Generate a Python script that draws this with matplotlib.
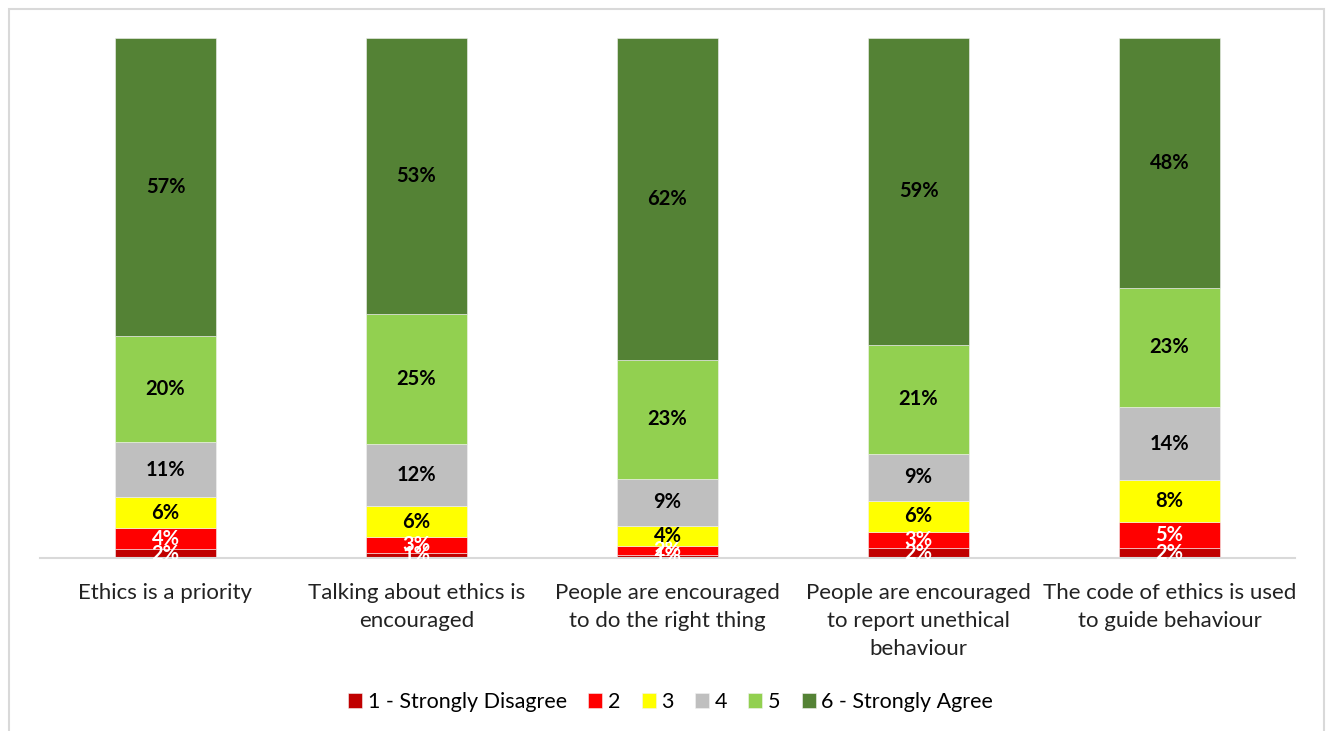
import numpy as np
import matplotlib
matplotlib.use("Agg")
import matplotlib.pyplot as plt
from matplotlib.patches import Rectangle

# ---- data ----
categories = [
    "Ethics is a priority",
    "Talking about ethics is\nencouraged",
    "People are encouraged\nto do the right thing",
    "People are encouraged\nto report unethical\nbehaviour",
    "The code of ethics is used\nto guide behaviour",
]
series_names = ["1 - Strongly Disagree", "2", "3", "4", "5", "6 - Strongly Agree"]
s1 = [1.7, 1.0, 0.6, 2.0, 2.0]
s2 = [4.0, 3.0, 1.7, 3.0, 5.0]
s3 = [6.0, 6.0, 3.9, 6.0, 8.0]
s4 = [10.6, 12.0, 9.0, 9.0, 14.0]
s5 = [20.3, 25.0, 22.9, 21.0, 23.0]
s6 = [57.4, 53.0, 61.9, 59.0, 48.0]

colors = ["#C00000", "#FF0000", "#FFFF00", "#BFBFBF", "#92D050", "#548235"]
label_colors = ["white", "white", "black", "black", "black", "black"]

plt.rcParams['font.family'] = ['Lato', 'DejaVu Sans']

fig = plt.figure(figsize=(13.28, 7.31), dpi=100)
ax = fig.add_axes([40 / 1328, 1 - 558 / 731, 1255 / 1328, 520 / 731])

x = np.arange(len(categories))
bottom = np.zeros(len(categories))
for vals, name, col, lc in zip([s1, s2, s3, s4, s5, s6], series_names, colors, label_colors):
    vals = np.array(vals)
    ax.bar(x, vals, 0.4, bottom=bottom, color=col, label=name,
           edgecolor="#F2F2F2", linewidth=0.4)
    for xi, b, v in zip(x, bottom, vals):
        ax.text(xi, b + v / 2, f"{v:.0f}%", ha="center", va="center",
                color=lc, fontsize=14.5, fontweight="bold")
    bottom += vals

ax.set_xlim(-0.5, len(categories) - 0.5)
ax.set_ylim(0, 100)
ax.set_yticks([])
ax.set_xticks(x)
ax.set_xticklabels(categories, fontsize=16, color="#222222", linespacing=1.5)
ax.tick_params(axis="x", length=0, pad=18)
for side in ["top", "left", "right"]:
    ax.spines[side].set_visible(False)
ax.spines["bottom"].set_color("#D9D9D9")
ax.spines["bottom"].set_linewidth(1.5)

leg = fig.legend(loc="center", bbox_to_anchor=(0.505, 1 - 702 / 731), ncol=6,
                 frameon=False, fontsize=15.5, handlelength=0.65, handleheight=0.65,
                 handletextpad=0.25, columnspacing=1.0)

# outer chart border
fig.patches.append(Rectangle((9 / 1328, -0.05), 1315 / 1328, 1.05 - 9 / 731,
                             transform=fig.transFigure, fill=False,
                             edgecolor="#D9D9D9", linewidth=1.5))

fig.savefig("out.png", dpi=100)
